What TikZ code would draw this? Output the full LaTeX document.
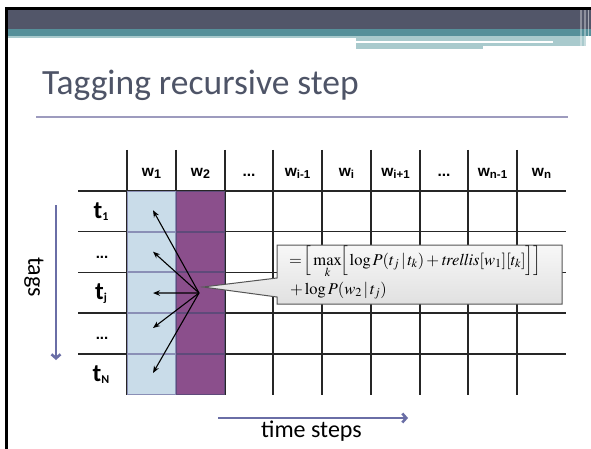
\documentclass[tikz,border=0pt]{standalone}
\usepackage{mathptmx}
\usepackage[no-math]{fontspec}
\setmainfont{Carlito}
\newfontfamily\hdrfont{Liberation Sans}
\usetikzlibrary{arrows.meta}

\definecolor{hdrdark}{HTML}{525669}
\definecolor{hdrteal}{HTML}{56909A}
\definecolor{hdrlight}{HTML}{A9CACD}
\definecolor{titlegray}{HTML}{4E5467}
\definecolor{rulelav}{HTML}{9D9BBE}
\definecolor{cellblue}{HTML}{C9DCE9}
\definecolor{cellblueedge}{HTML}{8A8FB6}
\definecolor{cellpurple}{HTML}{8B4F8C}
\definecolor{cellpurpleedge}{HTML}{5F4A7A}
\definecolor{axisblue}{HTML}{6A6EA6}
\definecolor{gridgray}{HTML}{262626}
\definecolor{calloutedge}{HTML}{555555}

% small lowered index for column and row headers
\newcommand{\hsub}[2]{{\fontsize{#1}{#1}\selectfont\raisebox{-2pt}{#2}}}

\tikzset{
  gridline/.style={draw=gridgray, line width=1.1pt},
  bluecell/.style={draw=cellblueedge, fill=cellblue, line width=1pt,
    minimum width=48, minimum height=39.6, inner sep=0},
  purplecell/.style={draw=cellpurpleedge, fill=cellpurple, line width=1pt,
    minimum width=48, minimum height=39.6, inner sep=0},
  collabel/.style={anchor=base, inner sep=0, font=\hdrfont\bfseries\fontsize{15.5}{15.5}\selectfont},
  rowlabel/.style={anchor=base, inner sep=0, font=\bfseries\fontsize{25}{25}\selectfont},
  dotlabel/.style={anchor=base, inner sep=0, font=\hdrfont\bfseries\fontsize{15}{15}\selectfont},
  pointer/.style={draw=black, line width=1.1pt, -{Stealth[length=7pt,width=5.5pt]}},
  axisarrow/.style={draw=axisblue, line width=2.6pt, -{Straight Barb[length=4pt,width=9pt]}},
  axislabel/.style={inner sep=0, font=\fontsize{24}{24}\selectfont},
  eqline/.style={anchor=base west, inner sep=0, font=\fontsize{16.5}{16.5}\selectfont},
}

\begin{document}
\begin{tikzpicture}[x=1pt,y=-1pt]
\useasboundingbox (0,0) rectangle (591,449);
\fill[white] (0,0) rectangle (591,449);

% slide frame and header bands
\fill[black] (5,7.5) rectangle (591,10);
\fill[black] (5,7.5) rectangle (8,449);
\fill[hdrdark] (8,10) rectangle (591,29);
\fill[hdrteal] (8,29) rectangle (591,36);
\fill[hdrlight] (8,36) rectangle (356,38.5);
\fill[hdrlight] (356,36) rectangle (586,46);
\fill[white] (356,41) rectangle (553,43);
\fill[hdrlight] (356,46) rectangle (483,49);
\fill[white, opacity=0.35] (580,10) rectangle (582,46);
\fill[white, opacity=0.35] (584,10) rectangle (585.5,46);
\fill[white, opacity=0.5] (588,10) rectangle (589,46);

% title
\node[anchor=base west, inner sep=0, text=titlegray,
      font=\fontsize{35.5}{36}\selectfont] (title) at (42,95) {Tagging recursive step};
\draw[rulelav, line width=2.2pt] (36,117.3) -- (567.5,117.3);

% trellis grid
\foreach \x in {127,176,225,273,322,371,420,468,517}
  \draw[gridline] (\x,150) -- (\x,395);
\foreach \y in {191,231.5,272.5,313,354}
  \draw[gridline] (78,\y) -- (566,\y);

% filled columns for w1 and w2
\foreach \r/\y in {1/211.25,2/252,3/292.75,4/333.5,5/374.5} {
  \node[bluecell] (b\r) at (151.5,\y) {};
  \node[purplecell] (p\r) at (200.5,\y) {};
}

% column headers
\node[collabel] (c1) at (151.5,176.5) {w\hsub{12.5}{1}};
\node[collabel] (c2) at (200.5,176.5) {w\hsub{12.5}{2}};
\node[collabel] (c3) at (249,176.5) {...};
\node[collabel] (c4) at (297.5,176.5) {w\hsub{11.5}{i-1}};
\node[collabel] (c5) at (346.5,176.5) {w\hsub{11.5}{i}};
\node[collabel] (c6) at (395.5,176.5) {w\hsub{11.5}{i+1}};
\node[collabel] (c7) at (444,176.5) {...};
\node[collabel] (c8) at (492.5,176.5) {w\hsub{11.5}{n-1}};
\node[collabel] (c9) at (541.5,176.5) {w\hsub{11.5}{n}};

% row headers
\node[rowlabel] (r1) at (101,218) {t\hsub{12}{1}};
\node[dotlabel] (r2) at (102,258) {...};
\node[rowlabel] (r3) at (101,299.5) {t\hsub{12}{j}};
\node[dotlabel] (r4) at (102,339.5) {...};
\node[rowlabel] (r5) at (101,381) {t\hsub{12}{N}};

% back-pointers from the w2 cell of tag j to every w1 cell
\coordinate (src) at (199,293);
\draw[pointer] (src) -- ([shift={(1.5,-1)}]b1.center);
\draw[pointer] (src) -- ([shift={(1.5,-0.3)}]b2.center);
\draw[pointer] (src) -- ([shift={(1.5,0.3)}]b3.center);
\draw[pointer] (src) -- ([shift={(1.5,-5.5)}]b4.center);
\draw[pointer] (src) -- ([shift={(1.5,-1.5)}]b5.center);

% callout with the recurrence
\coordinate (tip) at (203,287);
\shade[top color=gray!6, bottom color=gray!24, draw=calloutedge, line width=1pt]
  (277,245) -- (562,245) -- (562,304) -- (277,304) -- (277,297) -- (tip) -- (277,278) -- cycle;
\node[eqline] (eq1) at (289,265)
  {$=\!\Big[\max\limits_k\mathopen{}\!\Big[\log P(t_j\,|\,t_k)+\mathit{trellis}[w_1][t_k]\Big]\Big]$};
\node[eqline] (eq2) at (290,294)
  {$+\log P(w_2\,|\,t_j)$};

% axes
\coordinate (tagstart) at (56,205);
\coordinate (tagend) at (56,360);
\draw[axisarrow] (tagstart) -- (tagend);
\node[axislabel, rotate=-90] (tags) at (34,277) {tags};

\coordinate (timestart) at (218,418);
\coordinate (timeend) at (408,418);
\draw[axisarrow] (timestart) -- (timeend);
\node[axislabel, anchor=base] (time) at (311.5,437) {time steps};
\end{tikzpicture}
\end{document}
